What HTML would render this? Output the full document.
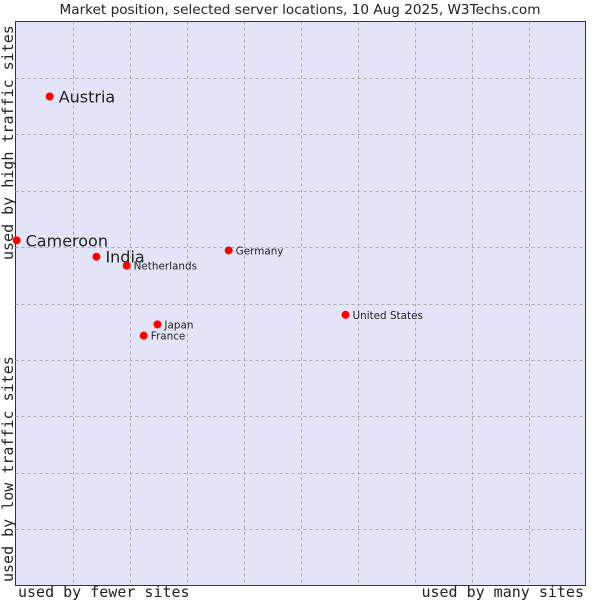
<!DOCTYPE html>
<html><head><meta charset="utf-8"><style>
body{margin:0;background:#fff;width:600px;height:600px;overflow:hidden}
svg text{font-family:"DejaVu Sans","Liberation Sans",sans-serif;fill:#222}
.mono{font-family:"DejaVu Sans Mono","Liberation Mono",monospace}
</style></head><body>
<svg width="600" height="600">
<text x="300" y="14" text-anchor="middle" font-size="13.6">Market position, selected server locations, 10 Aug 2025, W3Techs.com</text>
<rect x="15.5" y="21.5" width="570" height="564" fill="#e4e4f8" stroke="#333" stroke-width="1"/>
<g id="grid"></g>
<g id="pts"></g>
<text class="mono" x="18" y="597" font-size="15">used by fewer sites</text>
<text class="mono" x="584" y="597" font-size="15" text-anchor="end">used by many sites</text>
<text class="mono" transform="translate(13,260) rotate(-90)" font-size="15">used by high traffic sites</text>
<text class="mono" transform="translate(13,582) rotate(-90)" font-size="15">used by low traffic sites</text>
</svg>
<script>
const names=["Austria","Cameroon","India","Netherlands","Germany","United States","Japan","France"];
const xVals=[6.0,0.2,14.2,19.5,37.4,57.9,24.9,22.5];
const yVals=[86.7,61.2,58.3,56.7,59.4,48.0,46.3,44.3];
const big=[true,true,true,false,false,false,false,false];
const X0=15.5,W=570,Y0=21.5,H=564;
const sx=v=>X0+v/100*W, sy=v=>Y0+H-v/100*H;
const NS="http://www.w3.org/2000/svg";
const g=document.getElementById('grid');
for(let i=1;i<10;i++){
 const l=document.createElementNS(NS,'line');
 
 
 const x=Math.round(sx(i*10))+0.5;
 l.setAttribute('x1',x);l.setAttribute('x2',x);l.setAttribute('y1',Y0);l.setAttribute('y2',Y0+H);
 l.setAttribute('stroke','#aaa');l.setAttribute('stroke-dasharray','3,3');g.appendChild(l);
 const h=document.createElementNS(NS,'line');
 
 
 const y=Math.round(sy(i*10))+0.5;
 h.setAttribute('x1',X0);h.setAttribute('x2',X0+W);h.setAttribute('y1',y);h.setAttribute('y2',y);
 h.setAttribute('stroke','#aaa');h.setAttribute('stroke-dasharray','3,3');g.appendChild(h);
}
const p=document.getElementById('pts');
names.forEach((n,i)=>{
 const x=sx(xVals[i]),y=sy(yVals[i]);
 const c=document.createElementNS(NS,'circle');
 
 
 c.setAttribute('cx',x);c.setAttribute('cy',y);c.setAttribute('r',4);c.setAttribute('fill','#f00');p.appendChild(c);
 const t=document.createElementNS(NS,'text');
 
 
 t.setAttribute('x',x+(big[i]?9:7));t.setAttribute('y',y+(big[i]?6:4));
 t.setAttribute('font-size',big[i]?16:10.4);t.textContent=n;p.appendChild(t);
});
</script>
</body></html>
